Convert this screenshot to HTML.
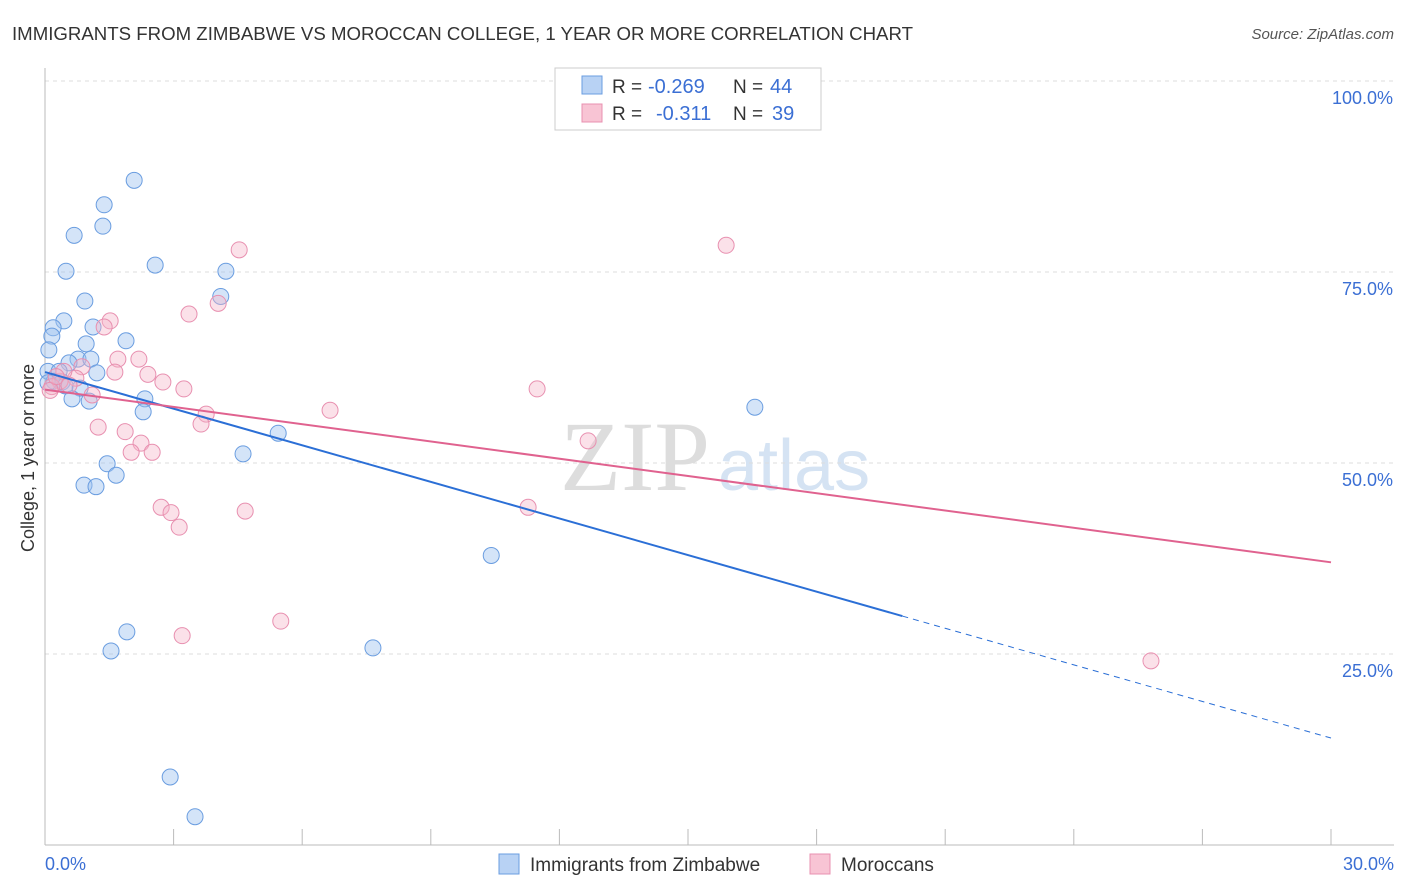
<!DOCTYPE html>
<html><head><meta charset="utf-8"><style>
body{margin:0;background:#fff;font-family:"Liberation Sans",sans-serif}
</style></head><body>
<svg id="c" width="1406" height="892" style="display:block">
<text x="12" y="40" font-size="18" fill="#333" textLength="901" lengthAdjust="spacingAndGlyphs">IMMIGRANTS FROM ZIMBABWE VS MOROCCAN COLLEGE, 1 YEAR OR MORE CORRELATION CHART</text>
<text x="1394" y="39" font-size="15" fill="#555" text-anchor="end" font-style="italic">Source: ZipAtlas.com</text>
<text x="560" y="490" font-size="100" fill="#ddd" font-family="Liberation Serif">ZIP</text>
<text x="718" y="490" font-size="72" fill="#d5e3f3">atlas</text>
<text transform="translate(34,458) rotate(-90)" font-size="18" fill="#333" text-anchor="middle">College, 1 year or more</text>
<g id="grid"></g><g id="pts"></g><g id="lines"></g>
<g>
<rect x="555" y="68" width="266" height="62" fill="#fff" stroke="#ccc"/>
<rect x="582" y="76" width="20" height="18" fill="#b8d2f4" stroke="#6a9de0"/>
<rect x="582" y="104" width="20" height="18" fill="#f8c4d4" stroke="#e890b0"/>
<text x="612" y="93" font-size="19" fill="#333">R =</text>
<text x="648" y="93" font-size="20" fill="#3b6fd4">-0.269</text>
<text x="733" y="93" font-size="19" fill="#333">N =</text>
<text x="770" y="93" font-size="20" fill="#3b6fd4">44</text>
<text x="612" y="120" font-size="19" fill="#333">R =</text>
<text x="656" y="120" font-size="20" fill="#3b6fd4">-0.311</text>
<text x="733" y="120" font-size="19" fill="#333">N =</text>
<text x="772" y="120" font-size="20" fill="#3b6fd4">39</text>
</g>
<g>
<rect x="499" y="854" width="20" height="20" fill="#b8d2f4" stroke="#6a9de0"/>
<text x="530" y="871" font-size="19" fill="#333">Immigrants from Zimbabwe</text>
<rect x="810" y="854" width="20" height="20" fill="#f8c4d4" stroke="#e890b0"/>
<text x="841" y="871" font-size="19" fill="#333">Moroccans</text>
</g>
</svg>
<script>
const yTicks=[25,50,75,100];
const yTickLabels=["25.0%","50.0%","75.0%","100.0%"];
const xTicks=[0,3,6,9,12,15,18,21,24,27,30];
const blueX=[2.08,1.38,1.35,0.68,0.49,2.57,4.22,4.1,0.93,0.44,0.19,1.12,0.16,1.89,0.96,0.09,0.77,1.07,0.56,0.07,0.33,1.21,0.21,0.4,0.47,0.82,0.63,1.03,2.33,2.29,5.44,4.62,1.45,1.66,0.91,1.19,16.56,10.41,1.91,1.54,7.65,2.92,3.5,0.07];
const blueY=[87,83.8,81,79.8,75.1,75.9,75.1,71.8,71.2,68.6,67.7,67.8,66.6,66.0,65.6,64.8,63.6,63.6,63.1,62.0,62.0,61.8,60.7,60.6,60.1,59.8,58.4,58.1,58.4,56.7,53.9,51.2,49.9,48.4,47.1,46.9,57.3,37.9,27.9,25.4,25.8,8.9,3.7,60.5];
const pinkX=[4.53,15.89,3.36,4.04,1.52,1.38,1.7,2.19,1.63,2.4,2.75,3.24,0.86,1.1,0.72,0.35,0.16,0.12,11.48,6.65,3.76,3.64,1.24,1.87,2.24,2.5,2.01,12.67,11.27,2.71,2.94,4.67,3.13,3.2,5.5,25.8,0.44,0.26,0.56];
const pinkY=[77.9,78.5,69.5,70.9,68.6,67.8,63.6,63.6,61.9,61.6,60.6,59.7,62.6,58.9,61.1,60.7,60.0,59.5,59.7,56.9,56.4,55.1,54.7,54.1,52.6,51.4,51.4,52.9,44.2,44.2,43.5,43.7,41.6,27.4,29.3,24.1,62.0,61.3,60.2];
const blueFit=[61.9,14.0], pinkFit=[59.6,37.0];
const X0=45,X1=1331,Y0=845,Y100=81;
const sx=v=>X0+(X1-X0)*v/30, sy=v=>Y0-(Y0-Y100)*v/100;
const NS="http://www.w3.org/2000/svg";
function mk(t,a,p){const e=document.createElementNS(NS,t);for(const k in a)e.setAttribute(k,a[k]);p.appendChild(e);return e;}
const grid=document.getElementById('grid');
yTicks.forEach((t,i)=>{
 const l=mk('line',{x1:X0,x2:1394,y1:sy(t),y2:sy(t),stroke:'#ddd','stroke-dasharray':'4,4'},grid);
 
 
 const tx=mk('text',{x:1393,y:sy(t)+23,'font-size':18,fill:'#3b6fd4','text-anchor':'end'},grid);
 tx.textContent=yTickLabels[i];
 
 
});
const ax=mk('line',{x1:X0,x2:X0,y1:68,y2:Y0,stroke:'#bbb'},grid);


const bx=mk('line',{x1:X0,x2:1394,y1:Y0,y2:Y0,stroke:'#bbb'},grid);


xTicks.forEach(t=>{const l=mk('line',{x1:sx(t),x2:sx(t),y1:Y0,y2:Y0-16,stroke:'#bbb'},grid);
 
 });
[[0,"0.0%",'start',45],[30,"30.0%",'end',1394]].forEach(([v,s,a,x])=>{const t=mk('text',{x:x,y:870,'font-size':18,fill:'#3b6fd4','text-anchor':a},grid);t.textContent=s;
 
 });
const pts=document.getElementById('pts');
blueX.forEach((v,i)=>{const c=mk('circle',{cx:sx(v),cy:sy(blueY[i]),r:8,fill:'rgba(160,195,240,0.45)',stroke:'#6a9de0','stroke-width':1},pts);
 
 });
pinkX.forEach((v,i)=>{const c=mk('circle',{cx:sx(v),cy:sy(pinkY[i]),r:8,fill:'rgba(245,180,200,0.4)',stroke:'#e890b0','stroke-width':1},pts);
 
 });
const lines=document.getElementById('lines');
const yb=x=>blueFit[0]+(blueFit[1]-blueFit[0])*x/30;
const b1=mk('line',{x1:sx(0),y1:sy(yb(0)),x2:sx(20),y2:sy(yb(20)),stroke:'#2b6fd6','stroke-width':2},lines);


const b2=mk('line',{x1:sx(20),y1:sy(yb(20)),x2:sx(30),y2:sy(yb(30)),stroke:'#2b6fd6','stroke-width':1,'stroke-dasharray':'6,5'},lines);


const p1=mk('line',{x1:sx(0),y1:sy(pinkFit[0]),x2:sx(30),y2:sy(pinkFit[1]),stroke:'#e0628f','stroke-width':2},lines);


</script>
</body></html>
